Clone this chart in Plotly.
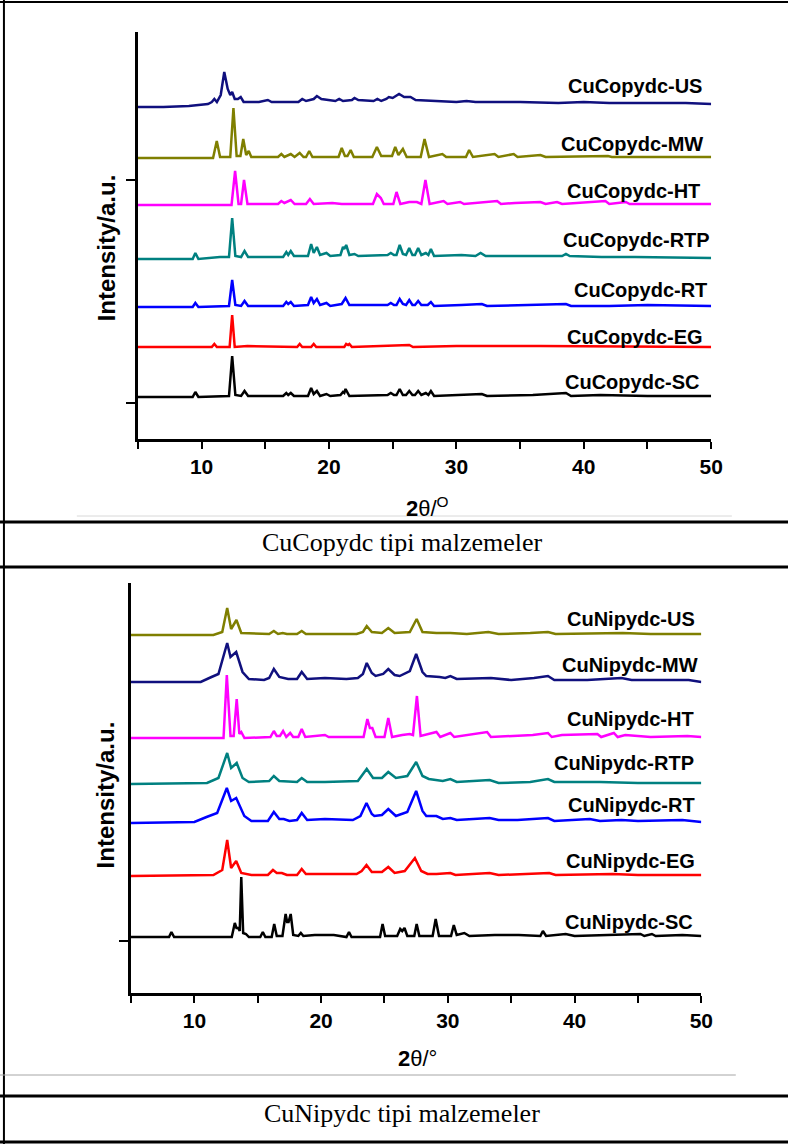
import plotly.graph_objects as go

# ---------------- data (2theta, intensity above own baseline, a.u.) ----------------
# Top panel: CuCopydc materials
CU_US = [(5,0),(7,0),(9,1),(10.5,3),(10.8,5),(11.0,8),(11.2,5),(11.5,12),(11.78,35),(12.05,18),(12.25,12),(12.4,15),(12.6,8),(12.85,8),(13.07,10),(13.3,5),(14.5,5),(15.2,7),(15.5,5),(17.6,5),(17.9,8),(18.2,6),(18.8,8),(19.05,11),(19.4,8),(20.5,6),(20.8,8),(21.1,6),(21.8,7),(22.0,9),(22.3,7),(23.5,6),(23.8,8),(24.1,6),(24.5,8),(24.7,10),(25.0,9),(25.5,13),(25.9,10),(26.4,10),(26.8,7),(28.0,6),(30.0,5),(30.8,6),(31.5,5),(35,5),(38,4),(40,5),(42,4),(45,4),(48,4),(50,3)]
CU_MW = [(5,0),(10.9,0),(11.19,17),(11.45,1),(12.25,1),(12.5,50),(12.75,2),(13.05,2),(13.27,19),(13.5,3),(13.7,7),(13.9,1),(16.0,1),(16.26,4),(16.5,1),(17.0,4),(17.3,1),(17.7,5),(18.0,1),(18.2,1),(18.45,7),(18.7,1),(20.75,1),(21.0,10),(21.25,2),(21.45,2),(21.7,8),(21.95,1),(23.4,1),(23.76,11),(24.1,2),(24.95,2),(25.2,11),(25.45,3),(25.8,9),(26.1,1),(27.2,1),(27.5,19),(27.85,1),(28.9,4),(29.2,1),(30.75,1),(31.0,8),(31.3,1),(33.0,4),(33.3,1),(34.5,4),(34.8,1),(36.6,3),(37,1),(41.9,2),(42.2,1),(45,1),(50,1)]
CU_HT = [(5,0),(12.35,0),(12.63,34),(12.9,1),(13.1,1),(13.33,25),(13.6,1),(16.0,1),(16.26,4),(16.5,2),(17.0,5),(17.3,1),(18.2,1),(18.5,6),(18.8,1),(20.26,2),(21,1),(23.45,1),(23.76,11),(24.07,7),(24.3,1),(25.05,1),(25.3,13),(25.6,1),(26.3,3),(26.9,3),(27.25,1),(27.57,25),(27.9,1),(29.0,4),(29.3,1),(30.3,3),(30.6,1),(33.2,4),(33.5,1),(34.6,2),(36.6,3),(37.0,1),(37.9,3),(38.3,1),(41.7,4),(42,1),(43.3,3),(43.6,1),(46,1),(50,1)]
CU_RTP = [(5,0),(9.3,0),(9.51,6),(9.75,0),(11.44,2),(12.15,2),(12.4,41),(12.65,3),(13.1,2),(13.37,8),(13.65,2),(16.4,2),(16.65,7),(16.8,4),(17.0,8),(17.25,3),(17.76,3),(18.35,3),(18.6,15),(18.8,6),(19.05,12),(19.3,4),(19.8,6),(20.1,3),(20.9,4),(21.1,12),(21.2,10),(21.35,14),(21.6,4),(22.0,5),(22.3,3),(24.6,4),(24.85,6),(25.1,4),(25.3,4),(25.55,14),(25.8,5),(26.05,4),(26.3,11),(26.55,4),(26.75,4),(27.0,11),(27.25,4),(27.6,6),(27.8,4),(28.0,10),(28.25,3),(30.4,4),(31.5,3),(31.9,6),(32.3,3),(34.3,3),(36.9,3),(38.3,3),(38.6,5),(38.9,3),(41.4,2),(44,2),(50,1)]
CU_RT = [(5,0),(9.3,0),(9.51,4),(9.75,0),(12.15,1),(12.4,27),(12.65,2),(13.1,1),(13.37,6),(13.65,1),(16.4,1),(16.65,5),(16.8,3),(17.0,5),(17.25,1),(18.35,2),(18.6,10),(18.8,4),(19.05,8),(19.3,2),(19.8,4),(20.1,1),(21.0,3),(21.3,9),(21.6,2),(24.6,2),(24.85,4),(25.1,2),(25.3,2),(25.55,8),(25.8,3),(26.05,2),(26.3,7),(26.55,2),(26.75,2),(27.0,6),(27.25,2),(27.75,2),(28.0,5),(28.25,1),(30.4,2),(32,3),(32.4,1),(36,2),(38.6,3),(39,1),(42,1),(45,2),(50,1)]
CU_EG = [(5,0),(10.8,0),(11.0,3),(11.2,0),(12.2,0),(12.4,32),(12.6,0),(13.6,1),(17.5,0),(17.7,3),(17.9,0),(18.6,0),(18.8,3),(19.0,0),(21.2,0),(21.35,3),(21.5,2),(21.6,3),(21.8,0),(24.85,1),(26.3,2),(26.6,0),(30,1),(36.6,1),(50,0)]
CU_SC = [(5,0),(9.3,0),(9.51,5),(9.75,0),(12.15,1),(12.4,41),(12.65,2),(13.1,1),(13.37,6),(13.65,1),(16.4,1),(16.65,4),(16.8,2),(17.0,4),(17.25,1),(18.35,1),(18.6,9),(18.8,3),(19.05,6),(19.3,1),(19.8,3),(20.1,1),(20.9,2),(21.1,5),(21.2,4),(21.3,8),(21.6,1),(24.6,2),(24.85,4),(25.1,2),(25.3,2),(25.55,8),(25.8,2),(26.05,2),(26.3,6),(26.55,2),(26.75,2),(27.0,6),(27.25,2),(27.6,4),(27.8,2),(28.0,6),(28.25,1),(30.4,2),(32,3),(32.4,1),(36,2),(38.6,4),(39,1),(41.3,2),(45,1),(50,1)]

# Bottom panel: CuNipydc materials
NI_US = [(5,0),(11.5,0),(12.2,3),(12.59,27),(12.9,6),(13.32,15),(13.7,2),(15.9,1),(16.27,4),(16.6,1),(16.97,2),(17.3,1),(18.1,1),(18.47,4),(18.8,1),(20.3,1),(22.8,1),(23.3,3),(23.6,9),(24.0,3),(24.8,2),(25.3,7),(25.8,2),(27.0,3),(27.54,16),(28.0,3),(29.1,2),(30.2,2),(31.5,1),(33.2,3),(34,1),(36.5,2),(37.9,3),(38.5,1),(42.9,2),(43.8,2),(46,1),(50,1)]
NI_MW = [(5,0),(10.5,0),(11.35,5),(11.9,8),(12.59,39),(12.85,25),(13.3,30),(13.8,10),(14.3,3),(15.5,2),(15.9,4),(16.27,13),(16.7,5),(16.97,4),(17.4,3),(18.1,3),(18.47,10),(18.9,3),(20.3,4),(22.0,3),(22.9,4),(23.3,8),(23.6,19),(24.0,9),(24.3,6),(24.9,8),(25.3,13),(25.8,7),(26.2,6),(27.0,11),(27.5,28),(28.0,10),(28.3,6),(29.35,5),(29.8,4),(30.2,6),(30.7,3),(33.4,4),(35,2),(36.8,4),(37.9,6),(38.4,2),(41,2),(43.7,4),(44.5,2),(49,2),(50,0)]
NI_HT = [(5,0),(12.3,0),(12.56,63),(12.85,2),(13.1,2),(13.34,39),(13.55,4),(13.7,6),(13.95,0),(16.0,1),(16.27,7),(16.5,2),(16.75,2),(17.0,7),(17.25,1),(17.56,5),(17.8,1),(18.2,1),(18.47,9),(18.75,1),(20.3,3),(20.6,1),(23.35,1),(23.65,19),(23.85,10),(24.04,10),(24.3,1),(25.0,1),(25.3,20),(25.6,1),(26.4,3),(27.0,4),(27.25,3),(27.56,42),(27.85,2),(29.1,6),(29.4,1),(30.2,5),(30.5,1),(33.1,6),(33.4,1),(34.6,2),(35.8,3),(36.7,3),(37.9,5),(38.2,1),(39,3),(41.4,4),(41.8,4),(42.1,1),(43.1,5),(43.4,1),(44,3),(46,1),(48.9,2),(50,1)]
NI_RTP = [(5,0),(11.0,1),(11.9,6),(12.59,31),(12.9,16),(13.34,21),(13.8,6),(14.3,2),(15.9,3),(16.27,8),(16.7,3),(18.1,2),(18.47,6),(18.9,2),(20.3,2),(22.9,3),(23.6,15),(24.1,6),(24.8,6),(25.3,12),(25.9,6),(26.8,8),(27.5,22),(28.0,8),(28.5,5),(29.1,4),(29.6,3),(30.2,5),(30.7,2),(33.3,4),(34,1),(36.5,2),(37.9,5),(38.4,2),(42,2),(45,1),(50,1)]
NI_RT = [(5,0),(10.0,1),(10.96,6),(11.8,10),(12.56,35),(12.9,22),(13.3,25),(13.94,7),(14.5,2),(15.8,2),(16.27,11),(16.7,4),(17.05,4),(17.5,2),(18.1,3),(18.47,10),(18.9,3),(20.3,4),(22.5,3),(23.1,7),(23.58,20),(24.0,9),(24.2,7),(24.8,8),(25.3,14),(25.9,7),(26.8,11),(27.5,32),(28.0,12),(28.3,7),(29.1,7),(29.6,4),(30.2,5),(30.7,3),(33.3,5),(34,3),(35.5,3),(36.6,4),(37.9,5),(38.4,2),(41.2,4),(42,2),(43.7,3),(45,2),(48.5,3),(50,1)]
NI_EG = [(5,0),(11.5,1),(12.2,6),(12.59,36),(12.9,8),(13.3,15),(13.7,3),(14.5,1),(15.8,1),(16.2,6),(16.5,3),(16.9,3),(17.3,1),(18.1,1),(18.47,7),(18.8,2),(20.3,2),(22.8,2),(23.2,5),(23.58,11),(24.0,4),(24.8,4),(25.3,9),(25.8,3),(26.6,5),(27.4,18),(27.9,5),(28.4,2),(29.1,2),(30.2,3),(30.6,1),(33.3,3),(34,1),(38,3),(38.5,1),(43,2),(45,1),(50,1)]
NI_SC = [(5,0),(8.0,0),(8.19,5),(8.4,0),(12.95,0),(13.19,14),(13.32,9),(13.45,9),(13.58,6),(13.7,60),(13.85,4),(14.07,3),(14.3,0),(15.2,0),(15.4,5),(15.6,0),(16.1,0),(16.3,13),(16.5,1),(16.95,1),(17.2,23),(17.32,15),(17.43,15),(17.6,23),(17.8,2),(18.2,1),(18.4,4),(18.6,1),(19.5,2),(21.0,2),(22.0,0),(22.2,5),(22.4,0),(24.65,0),(24.85,13),(25.05,1),(26.0,1),(26.24,8),(26.4,6),(26.58,9),(26.8,1),(27.35,1),(27.54,13),(27.75,1),(28.8,1),(29.04,18),(29.3,1),(30.25,1),(30.47,12),(30.7,2),(31.3,4),(31.7,1),(33.7,2),(35.6,2),(37.3,1),(37.5,6),(37.75,1),(39.3,3),(40,1),(45.2,3),(45.5,1),(46.1,3),(46.4,1),(48.5,2),(50,1)]

TOP_NAMES = ["CuCopydc-US", "CuCopydc-MW", "CuCopydc-HT", "CuCopydc-RTP", "CuCopydc-RT", "CuCopydc-EG", "CuCopydc-SC"]
TOP_SERIES = [CU_US, CU_MW, CU_HT, CU_RTP, CU_RT, CU_EG, CU_SC]
TOP_OFFSETS = [332, 281, 234, 180, 132, 92, 42]

BOT_NAMES = ["CuNipydc-US", "CuNipydc-MW", "CuNipydc-HT", "CuNipydc-RTP", "CuNipydc-RT", "CuNipydc-EG", "CuNipydc-SC"]
BOT_SERIES = [NI_US, NI_MW, NI_HT, NI_RTP, NI_RT, NI_EG, NI_SC]
BOT_OFFSETS = [358, 311, 255, 209, 170, 117, 56]

X_TICKS = [10, 20, 30, 40, 50]
CAPTIONS = ["CuCopydc tipi malzemeler", "CuNipydc tipi malzemeler"]

# ---------------- styles ----------------
NAVY, OLIVE, MAG, TEAL, BLUE, RED, BLACK = "#10107e", "#7f7f00", "#ff00ff", "#008080", "#0000ff", "#ff0000", "#000000"
TOP_COLORS = [NAVY, OLIVE, MAG, TEAL, BLUE, RED, BLACK]
BOT_COLORS = [OLIVE, NAVY, MAG, TEAL, BLUE, RED, BLACK]
# label anchor points in paper pixels (right edge x, centre y)
TOP_LABEL_PX = [(715, 86), (716, 144), (713, 191), (723, 240), (720, 290), (716, 337), (712, 382)]
BOT_LABEL_PX = [(708, 619), (711, 665), (707, 719), (707, 763), (708, 805), (708, 861), (706, 922)]

W, H = 800, 1144
def px(x):
    return x / W
def py(y):
    return 1 - y / H

SANS = "Liberation Sans, Arial, sans-serif"
SERIF = "Liberation Serif, Times New Roman, serif"

fig = go.Figure()

for pts, off, col, name in zip(TOP_SERIES, TOP_OFFSETS, TOP_COLORS, TOP_NAMES):
    fig.add_trace(go.Scatter(x=[p[0] for p in pts], y=[p[1] + off for p in pts], mode="lines",
                             line=dict(color=col, width=2.5), name=name, xaxis="x", yaxis="y",
                             showlegend=False, hoverinfo="skip"))
for pts, off, col, name in zip(BOT_SERIES, BOT_OFFSETS, BOT_COLORS, BOT_NAMES):
    fig.add_trace(go.Scatter(x=[p[0] for p in pts], y=[p[1] + off for p in pts], mode="lines",
                             line=dict(color=col, width=2.5), name=name, xaxis="x2", yaxis="y2",
                             showlegend=False, hoverinfo="skip"))

def xaxis_cfg(domain, anchor):
    return dict(domain=domain, anchor=anchor, range=[5, 50], showline=True, linecolor="black",
                linewidth=2.5, ticks="outside", ticklen=7, tickwidth=2.2, tickcolor="black",
                tickvals=X_TICKS, showgrid=False, zeroline=False,
                tickfont=dict(family=SANS, size=21, color="black", weight="bold"),
                minor=dict(ticks="outside", ticklen=7, tickwidth=2.2, tickcolor="black",
                           tickvals=[5, 15, 25, 35, 45], showgrid=False))

def yaxis_cfg(domain, anchor, rng, tv):
    return dict(domain=domain, anchor=anchor, range=rng, showline=True, linecolor="black",
                linewidth=2.5, ticks="outside", ticklen=9, tickwidth=2, tickcolor="black",
                tickvals=tv, showticklabels=False, showgrid=False, zeroline=False)

fig.update_layout(
    width=W, height=H, margin=dict(l=0, r=0, t=0, b=0),
    paper_bgcolor="white", plot_bgcolor="rgba(0,0,0,0)",
    xaxis=xaxis_cfg([px(140), px(722)], "y"),
    yaxis=yaxis_cfg([py(439), py(32)], "x", [0, 407], [36, 259]),
    xaxis2=xaxis_cfg([px(133), px(712)], "y2"),
    yaxis2=yaxis_cfg([py(993), py(583)], "x2", [0, 410], [52]),
)

ann = []
for name, (lx, ly) in zip(TOP_NAMES + BOT_NAMES, TOP_LABEL_PX + BOT_LABEL_PX):
    ann.append(dict(x=px(lx), y=py(ly), xref="paper", yref="paper", text=name, showarrow=False,
                    xanchor="right", yanchor="middle",
                    font=dict(family=SANS, size=20, color="black", weight="bold")))

# axis titles
for (x, y) in [(109, 248), (107, 795)]:
    ann.append(dict(x=px(x), y=py(y), xref="paper", yref="paper", text="<b>Intensity/a.u.</b>",
                    textangle=-90, showarrow=False, xanchor="center", yanchor="middle",
                    font=dict(family=SANS, size=24, color="black")))
ann.append(dict(x=px(434), y=py(507), xref="paper", yref="paper", text="<b>2</b>θ/<sup>O</sup>",
                showarrow=False, xanchor="center", yanchor="middle",
                font=dict(family=SANS, size=22, color="black")))
ann.append(dict(x=px(424), y=py(1058), xref="paper", yref="paper", text="<b>2</b>θ/°",
                showarrow=False, xanchor="center", yanchor="middle",
                font=dict(family=SANS, size=22, color="black")))

# captions
for cap, y in zip(CAPTIONS, [542, 1113]):
    ann.append(dict(x=px(408), y=py(y), xref="paper", yref="paper", text=cap, showarrow=False,
                    xanchor="center", yanchor="middle", font=dict(family=SERIF, size=26, color="black")))

fig.update_layout(annotations=ann)

shapes = []
# table frame
shapes.append(dict(type="line", xref="paper", yref="paper", x0=px(4), x1=px(4), y0=0, y1=1,
                   line=dict(color="black", width=2)))
shapes.append(dict(type="line", xref="paper", yref="paper", x0=0, x1=1, y0=py(2), y1=py(2),
                   line=dict(color="black", width=2)))
for y in [522, 567, 1096, 1142]:
    shapes.append(dict(type="line", xref="paper", yref="paper", x0=0, x1=1, y0=py(y), y1=py(y),
                       line=dict(color="black", width=3)))
# thin gray rules below the charts
shapes.append(dict(type="line", xref="paper", yref="paper", x0=px(78), x1=px(743), y0=py(516), y1=py(516),
                   line=dict(color="#d8d8d8", width=1)))
shapes.append(dict(type="line", xref="paper", yref="paper", x0=0, x1=px(747), y0=py(1075), y1=py(1075),
                   line=dict(color="#a6a6a6", width=1)))
fig.update_layout(shapes=shapes)

fig.write_html("out.html", config={"displayModeBar": False},
               post_script="document.body.style.margin='0px';document.body.style.overflow='hidden';")
